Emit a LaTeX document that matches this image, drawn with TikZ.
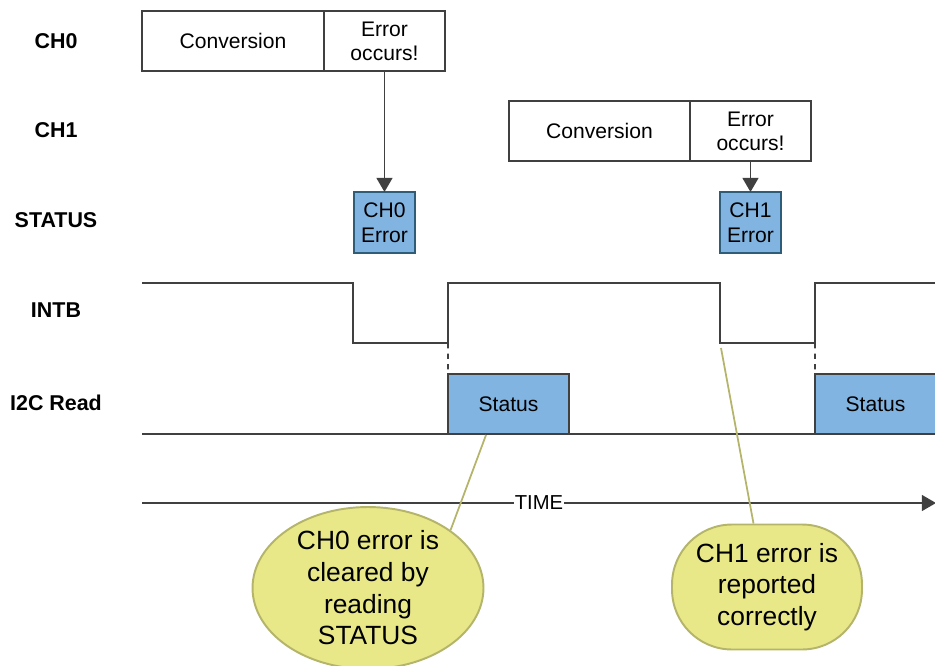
\documentclass[tikz,border=0pt]{standalone}
\usepackage{fontspec}
\setmainfont{Liberation Sans}
\usetikzlibrary{positioning,arrows.meta,shapes.geometric}

\definecolor{regfill}{RGB}{130,180,226}
\definecolor{regline}{RGB}{45,93,120}
\definecolor{notefill}{RGB}{232,232,136}
\definecolor{noteline}{RGB}{180,180,106}
\definecolor{wavecol}{RGB}{64,64,64}

\begin{document}
\begin{tikzpicture}[x=0.02cm, y=-0.02cm,
    rowlabel/.style={font=\fontsize{12.2}{14}\selectfont\bfseries},
    cell/.style={draw=wavecol, line width=1.1pt, fill=white, outer sep=0pt, inner sep=0pt, minimum height=12mm, align=center, font=\fontsize{12}{13.7}\selectfont},
    errbox/.style={draw=regline, line width=1.1pt, fill=regfill, outer sep=0pt, inner sep=0pt, minimum width=12.2mm, minimum height=12.2mm, align=center, font=\fontsize{12}{14.2}\selectfont},
    readbox/.style={draw=wavecol, line width=1.1pt, fill=regfill, outer sep=0pt, minimum width=24.2mm, minimum height=12mm, font=\fontsize{12}{14}\selectfont},
    note/.style={draw=noteline, line width=1.1pt, fill=notefill, inner sep=0pt, align=center, font=\fontsize{15}{18}\selectfont},
    wave/.style={draw=wavecol, line width=1.1pt},
    flowarrow/.style={-{Triangle[width=9pt,length=8pt]}, draw=wavecol, line width=1.1pt},
    timearrow/.style={-{Triangle[width=9pt,length=8pt]}, draw=wavecol, line width=0.9pt},
    pointer/.style={draw=noteline, line width=1pt}
  ]

  \useasboundingbox (0,0) rectangle (935,665);
  \clip (0,0) rectangle (935,665);

  \coordinate (conv0p) at (233,41);
  \coordinate (conv1p) at (599.5,131);
  \coordinate (rd0p) at (508.5,404);
  \coordinate (rd1p) at (875.5,404);
  \coordinate (tip0) at (486,435);
  \coordinate (tip1) at (721,348);
  \coordinate (t0) at (142,503);
  \coordinate (t1) at (936,503);

  % Row names
  \node[rowlabel] (lch0) at (56,41) {CH0};
  \node[rowlabel] (lch1) at (56,130) {CH1};
  \node[rowlabel] (lstat) at (56,220) {STATUS};
  \node[rowlabel] (lintb) at (56,310) {INTB};
  \node[rowlabel] (lread) at (56,403) {I2C Read};

  % Channels
  \node[cell, minimum width=36.4mm] (conv0) at (conv0p) {Conversion};
  \node[cell, minimum width=24.2mm, right=0pt of conv0] (err0) {Error\\occurs!};
  \node[cell, minimum width=36.2mm] (conv1) at (conv1p) {Conversion};
  \node[cell, minimum width=24.2mm, right=0pt of conv1] (err1) {Error\\occurs!};

  % Status register
  \node[errbox, below=24.2mm of err0] (stat0) {CH0\\Error};
  \node[errbox, below=6.2mm of err1] (stat1) {CH1\\Error};

  \draw[flowarrow] (err0) -- (stat0);
  \draw[flowarrow] (err1) -- (stat1);

  % INTB
  \draw[wave] (142,283) -- (353,283) -- (353,343) -- (448,343) -- (448,283)
    -- (720,283) -- (720,343) -- (815,343) -- (815,283) -- (940,283);

  % I2C
  \draw[wave] (142,434) -- (940,434);
  \node[readbox] (rd0) at (rd0p) {Status};
  \node[readbox] (rd1) at (rd1p) {Status};
  \draw[wave, dashed] (448,343) -- (rd0.north west);
  \draw[wave, dashed] (815,343) -- (rd1.north west);

  % Time axis
  \draw[timearrow] (t0) -- node[fill=white, inner sep=0.5pt, font=\fontsize{11.5}{14}\selectfont] (tlabel) {TIME} (t1);

  % Notes
  \node[note, ellipse, minimum width=46.2mm, minimum height=32.4mm] (note0) at (368,588)
    {CH0 error is\\cleared by\\reading\\STATUS};
  \node[note, rounded corners=12mm, minimum width=38mm, minimum height=25mm] (note1) at (767,587)
    {CH1 error is\\reported\\correctly};

  \draw[pointer] (tip0) -- (note0.35);
  \draw[pointer] (tip1) -- (note1.102);

\end{tikzpicture}
\end{document}
